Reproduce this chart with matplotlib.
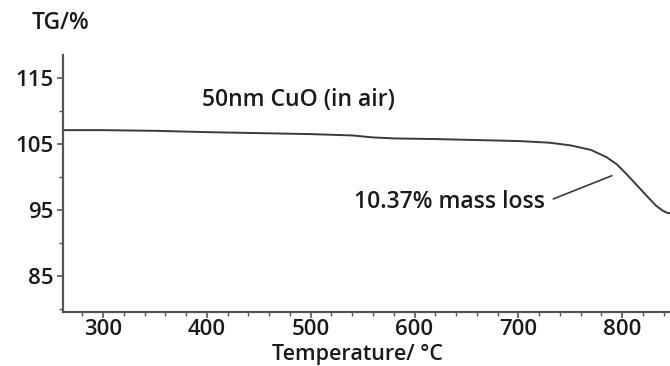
import matplotlib.pyplot as plt
from matplotlib.ticker import MultipleLocator

plt.rcParams['font.family'] = ['Open Sans', 'DejaVu Sans']

# TG curve of 50nm CuO in air
temperature = [261, 300, 350, 400, 450, 500, 540, 560, 580, 620, 660, 700, 730,
               750, 770, 785, 795, 805, 815, 825, 833, 839, 843, 846]
tg_percent = [107.1, 107.1, 107.0, 106.8, 106.65, 106.5, 106.3, 106.0, 105.85, 105.75, 105.6, 105.45, 105.2,
              104.8, 104.1, 103.0, 101.9, 100.3, 98.6, 96.9, 95.6, 94.9, 94.6, 94.5]

x_ticks = [300, 400, 500, 600, 700, 800]
y_ticks = [85, 95, 105, 115]

line_color = '#3a3a3a'
axis_color = '#555555'
text_color = '#1a1a1a'
fs = 16.5
fw = 'semibold'

fig = plt.figure(figsize=(6.7, 3.66), dpi=100)
ax = fig.add_axes([0.094, 0.1475, 0.906, 0.7025])

ax.plot(temperature, tg_percent, color=line_color, linewidth=1.4)

ax.set_xlim(261.5, 846)
ax.set_ylim(79.55, 118.5)
ax.set_xticks(x_ticks)
ax.set_yticks(y_ticks)
ax.xaxis.set_minor_locator(MultipleLocator(20))
ax.yaxis.set_minor_locator(MultipleLocator(5))

for side in ['top', 'right']:
    ax.spines[side].set_visible(False)
for side in ['left', 'bottom']:
    ax.spines[side].set_color(axis_color)
    ax.spines[side].set_linewidth(1.6)

ax.tick_params(which='major', length=4, width=1.2, color=axis_color,
               labelsize=16, labelcolor=text_color, pad=3)
ax.tick_params(axis='x', which='major', pad=1)
ax.tick_params(which='minor', length=3, width=1.0, color=axis_color)
for lbl in ax.get_xticklabels() + ax.get_yticklabels():
    lbl.set_fontweight(fw)

# Annotations
ax.text(395, 111.7, '50nm CuO (in air)', fontsize=fs, fontweight=fw, color=text_color,
        va='center', ha='left')
ax.annotate('10.37% mass loss', xy=(790, 100.2), xytext=(726, 96.2),
            fontsize=fs, fontweight=fw, color=text_color, va='center', ha='right',
            arrowprops=dict(arrowstyle='-', color=line_color, linewidth=1.2,
                            relpos=(1, 0.5), shrinkA=4, shrinkB=0))

fig.text(32 / 670, 1 - 23 / 366, 'TG/%', fontsize=fs, fontweight=fw, color=text_color,
         va='center', ha='left')
fig.text(357 / 670, 1 / 366, 'Temperature/ °C', fontsize=15.5, fontweight=fw,
         color=text_color, va='bottom', ha='center')

fig.savefig('out.png', dpi=100)
